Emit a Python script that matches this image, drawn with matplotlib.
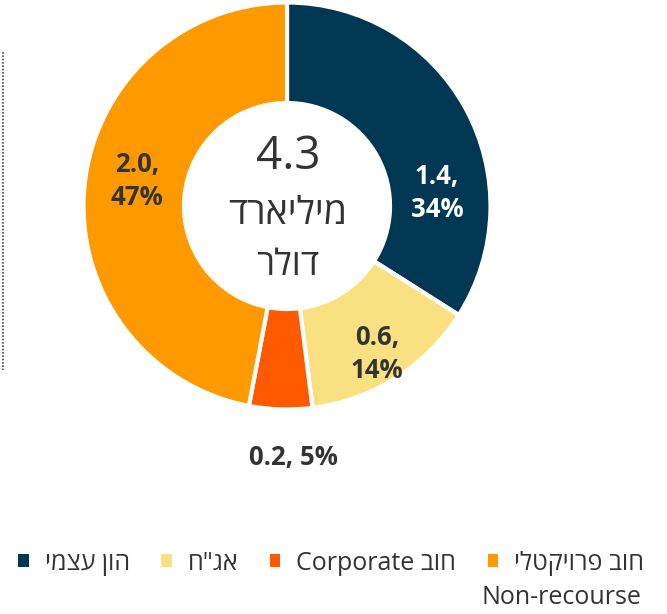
import matplotlib
matplotlib.use("Agg")
import matplotlib.pyplot as plt
from matplotlib.lines import Line2D

# ---- data ----
categories = ["הון עצמי", 'אג"ח', "חוב Corporate", "חוב פרויקטלי"]
values = [1.4, 0.6, 0.2, 2.0]
percents = [34, 14, 5, 47]
total_label = "4.3"
center_lines = ["מיליארד", "דולר"]
extra_legend_line = "Non-recourse"

colors = ["#003853", "#F9E181", "#FF5A00", "#FF9900"]
label_colors = ["white", "#333333", "#333333", "#333333"]

FONT = ["Open Sans", "DejaVu Sans"]
TXT = "#333333"


def is_heb(ch):
    return "\u0590" <= ch <= "\u05FF"


def vis(s):
    """Convert logical RTL string to visual (LTR drawing) order."""
    toks = s.split(" ")
    toks = toks[::-1]
    out = []
    for t in toks:
        if any(is_heb(c) for c in t):
            out.append(t[::-1])
        else:
            out.append(t)
    return " ".join(out)


W, H = 667, 614
fig = plt.figure(figsize=(W / 100, H / 100), dpi=100)
ax = fig.add_axes([0, 0, 1, 1])

cx, cy = 287, H - 206
R = 203.5
wedges, _ = ax.pie(
    percents,
    colors=colors,
    startangle=90,
    counterclock=False,
    radius=R,
    center=(cx, cy),
    wedgeprops=dict(width=R - 103, edgecolor="white", linewidth=3),
)
ax.set_xlim(0, W)
ax.set_ylim(0, H)
ax.set_aspect("equal")
ax.axis("off")

# data labels (pixel positions from top)
label_pos = [(437, 193, True), (377, 354, True), (293, 457, False), (137, 181, True)]
for v, p, (x, y, two), c in zip(values, percents, label_pos, label_colors):
    txt = f"{v:.1f},\n{p}%" if two else f"{v:.1f}, {p}%"
    ax.text(x, H - y, txt, ha="center", va="center", fontsize=18.5,
            fontweight="bold", color=c, family=FONT, linespacing=1.3)

# center text
ax.text(cx + 1, H - 157, total_label, ha="center", va="center",
        fontsize=33, color=TXT, family=FONT)
ax.text(cx + 1, H - 214, vis(center_lines[0]), ha="center", va="center",
        fontsize=27, color=TXT, family=FONT)
ax.text(cx + 1, H - 266, vis(center_lines[1]), ha="center", va="center",
        fontsize=26, color=TXT, family=FONT)

# dotted vertical line at left
fig.add_artist(Line2D([3 / W, 3 / W], [1 - 52 / H, 1 - 370 / H],
                      transform=fig.transFigure, color="#444444",
                      linestyle=(0, (1, 1)), linewidth=1.2))

# legend
FS = 18
leg = ax.legend(wedges, [vis(c) for c in categories], ncol=4,
                loc="center left", bbox_to_anchor=(18 / W, 1 - 563 / H),
                bbox_transform=fig.transFigure, frameon=False,
                borderpad=0, borderaxespad=0, handlelength=0.42,
                handleheight=0.42, handletextpad=0.65, columnspacing=1.25,
                prop=dict(family=FONT, size=FS))
for t in leg.get_texts():
    t.set_color(TXT)
for h in leg.legend_handles:
    h.set_linewidth(0)

fig.text(641 / W, 1 - 598 / H, extra_legend_line, ha="right", va="center",
         fontsize=FS, color=TXT, family=FONT)

fig.savefig("out.png", dpi=100)
